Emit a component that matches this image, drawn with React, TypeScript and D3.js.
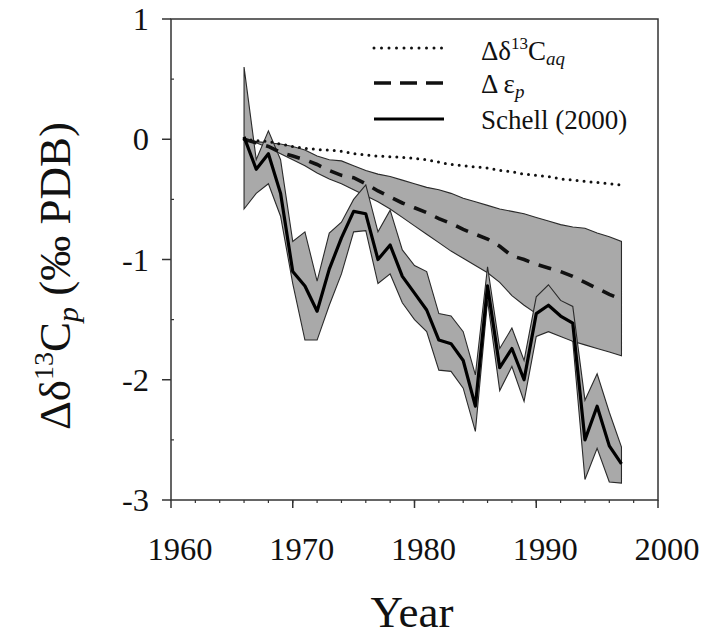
import React from 'react';
import * as d3 from 'd3';

// Sampling years shared by every series
const years = [
  1966, 1967, 1968, 1969, 1970, 1971, 1972, 1973, 1974, 1975, 1976,
  1977, 1978, 1979, 1980, 1981, 1982, 1983, 1984, 1985, 1986, 1987,
  1988, 1989, 1990, 1991, 1992, 1993, 1994, 1995, 1996, 1997,
];

// Schell (2000) record with its uncertainty envelope
const schell = [
  0.02, -0.25, -0.12, -0.45, -1.1, -1.22, -1.43, -1.08, -0.82, -0.6, -0.62,
  -1.0, -0.88, -1.14, -1.28, -1.42, -1.67, -1.7, -1.84, -2.22, -1.22, -1.9,
  -1.74, -2.0, -1.45, -1.38, -1.47, -1.53, -2.5, -2.22, -2.55, -2.7,
];
const schellUpper = [
  0.6, -0.17, 0.07, -0.17, -0.85, -0.77, -1.18, -0.78, -0.69, -0.5, -0.38,
  -0.77, -0.59, -0.92, -1.05, -1.1, -1.45, -1.47, -1.6, -1.96, -1.06, -1.74,
  -1.57, -1.84, -1.31, -1.21, -1.34, -1.39, -2.17, -1.95, -2.27, -2.56,
];
const schellLower = [
  -0.58, -0.45, -0.37, -0.64, -1.2, -1.67, -1.67, -1.38, -1.12, -0.77, -0.76,
  -1.2, -1.12, -1.36, -1.5, -1.6, -1.92, -1.93, -2.07, -2.43, -1.34, -2.09,
  -1.89, -2.18, -1.64, -1.6, -1.64, -1.68, -2.83, -2.57, -2.85, -2.86,
];

// Δε_p with its envelope
const deltaEp = [
  0.0, -0.03, -0.06, -0.11, -0.14, -0.17, -0.21, -0.26, -0.3, -0.32, -0.37,
  -0.43, -0.48, -0.53, -0.57, -0.61, -0.66, -0.7, -0.75, -0.79, -0.83, -0.89,
  -0.97, -1.0, -1.04, -1.07, -1.1, -1.14, -1.19, -1.24, -1.29, -1.33,
];
const epUpper = [
  0.0, -0.02, -0.03, -0.04, -0.06, -0.09, -0.14, -0.17, -0.18, -0.22, -0.26,
  -0.29, -0.31, -0.34, -0.37, -0.4, -0.42, -0.45, -0.49, -0.52, -0.55, -0.58,
  -0.6, -0.62, -0.65, -0.68, -0.71, -0.73, -0.74, -0.78, -0.81, -0.85,
];
const epLower = [
  0.0, -0.03, -0.07, -0.12, -0.17, -0.22, -0.28, -0.33, -0.37, -0.42, -0.47,
  -0.52, -0.58, -0.65, -0.72, -0.79, -0.86, -0.93, -0.99, -1.05, -1.11, -1.19,
  -1.3, -1.38, -1.45, -1.53, -1.62, -1.68, -1.71, -1.74, -1.77, -1.8,
];

// Δδ13C_aq
const deltaAq = [
  0.0, -0.01, -0.02, -0.04, -0.06, -0.075, -0.085, -0.09, -0.1, -0.12, -0.13,
  -0.14, -0.145, -0.15, -0.16, -0.17, -0.19, -0.21, -0.22, -0.23, -0.24, -0.26,
  -0.27, -0.29, -0.3, -0.31, -0.33, -0.34, -0.35, -0.36, -0.37, -0.38,
];

const xTicks = [1960, 1970, 1980, 1990, 2000];
const xMinorTicks = d3.range(1962, 2000, 2);
const yTicks = [1, 0, -1, -2, -3];
const yMinorTicks = [0.5, -0.5, -1.5, -2.5];

const W = 703;
const H = 636;
const SERIF = "'Liberation Serif', 'DejaVu Serif', serif";

type Pt = { year: number; v: number; lo: number; hi: number };

export default function App() {
  const x = d3.scaleLinear().domain([1960, 2000]).range([171, 658]);
  const y = d3.scaleLinear().domain([-3, 1]).range([500, 19]);

  const schellPts: Pt[] = years.map((yr, i) => ({
    year: yr, v: schell[i], lo: schellLower[i], hi: schellUpper[i],
  }));
  const epPts: Pt[] = years.map((yr, i) => ({
    year: yr, v: deltaEp[i], lo: epLower[i], hi: epUpper[i],
  }));
  const aqPts = years.map((yr, i) => ({ year: yr, v: deltaAq[i] }));

  const band = d3
    .area<Pt>()
    .x((d) => x(d.year))
    .y0((d) => y(d.lo))
    .y1((d) => y(d.hi));
  const line = d3
    .line<{ year: number; v: number }>()
    .x((d) => x(d.year))
    .y((d) => y(d.v));

  const [x0, x1] = x.range();
  const [yb, yt] = y.range();

  const legendX0 = 374;
  const legendX1 = 444;
  const legendText = 481;
  const legendRows = [48, 83, 119];

  const txt = { fontFamily: SERIF };

  return (
    <svg
      width={W}
      height={H}
      style={{ position: 'absolute', left: 0, top: 0, background: '#fff', fontFamily: SERIF }}
    >
      {/* envelopes */}
      <path d={band(epPts) + 'Z'} fill="#a9a9a9" stroke="#2a2a2a" strokeWidth={1.1} />
      <path d={band(schellPts) + 'Z'} fill="#a9a9a9" stroke="#2a2a2a" strokeWidth={1.1} />

      {/* series lines */}
      <path
        d={line(aqPts) ?? ''}
        fill="none"
        stroke="#111"
        strokeWidth={3}
        strokeLinecap="round"
        strokeDasharray="0 7"
      />
      <path
        d={line(epPts) ?? ''}
        fill="none"
        stroke="#111"
        strokeWidth={3.6}
        strokeDasharray="13 10"
      />
      <path
        d={line(schellPts) ?? ''}
        fill="none"
        stroke="#000"
        strokeWidth={3.2}
        strokeLinejoin="round"
      />

      {/* frame */}
      <rect x={x0} y={yt} width={x1 - x0} height={yb - yt} fill="none" stroke="#333" strokeWidth={1.5} />

      {/* x axis */}
      {xTicks.map((t) => (
        <g key={`xt${t}`}>
          <line x1={x(t)} x2={x(t)} y1={yb} y2={yb + 8} stroke="#333" strokeWidth={1.5} />
          <text x={x(t) + 9} y={560} fontSize={32.5} textAnchor="middle" fill="#111" style={txt}>
            {t}
          </text>
        </g>
      ))}
      {xMinorTicks.map((t) => (
        <line key={`xm${t}`} x1={x(t)} x2={x(t)} y1={yb} y2={yb + 3} stroke="#333" strokeWidth={1.2} />
      ))}

      {/* y axis */}
      {yTicks.map((t) => (
        <g key={`yt${t}`}>
          <line x1={x0 - 9} x2={x0} y1={y(t)} y2={y(t)} stroke="#333" strokeWidth={1.5} />
          <text x={149} y={y(t) + 11} fontSize={32.5} textAnchor="end" fill="#111" style={txt}>
            {t}
          </text>
        </g>
      ))}
      {yMinorTicks.map((t) => (
        <line key={`ym${t}`} x1={x0} x2={x0 + 3} y1={y(t)} y2={y(t)} stroke="#333" strokeWidth={1.2} />
      ))}

      {/* axis titles */}
      <text x={412} y={627} fontSize={45} textAnchor="middle" fill="#111" style={txt}>
        Year
      </text>
      <text
        transform="translate(70,276) rotate(-90)"
        fontSize={45}
        textAnchor="middle"
        fill="#111"
        style={txt}
      >
        Δδ
        <tspan dy={-17} fontSize={28}>13</tspan>
        <tspan dy={17}>C</tspan>
        <tspan dy={8} fontSize={30} fontStyle="italic">p</tspan>
        <tspan dy={-8}> (‰ PDB)</tspan>
      </text>

      {/* legend */}
      <line
        x1={legendX0}
        x2={legendX1}
        y1={legendRows[0]}
        y2={legendRows[0]}
        stroke="#111"
        strokeWidth={3}
        strokeLinecap="round"
        strokeDasharray="0 7.5"
      />
      <line
        x1={legendX0}
        x2={legendX1}
        y1={legendRows[1]}
        y2={legendRows[1]}
        stroke="#111"
        strokeWidth={3.6}
        strokeDasharray="17 9"
      />
      <line
        x1={legendX0}
        x2={legendX1}
        y1={legendRows[2]}
        y2={legendRows[2]}
        stroke="#000"
        strokeWidth={3.2}
      />
      <text x={legendText} y={legendRows[0] + 12} fontSize={27} fill="#111" style={txt}>
        Δδ
        <tspan dy={-11} fontSize={17}>13</tspan>
        <tspan dy={11}>C</tspan>
        <tspan dy={5} fontSize={19} fontStyle="italic">aq</tspan>
      </text>
      <text x={legendText} y={legendRows[1] + 10} fontSize={27} fill="#111" style={txt}>
        Δ ε
        <tspan dy={5} fontSize={19} fontStyle="italic">p</tspan>
      </text>
      <text x={legendText} y={legendRows[2] + 10} fontSize={27} fill="#111" style={txt}>
        Schell (2000)
      </text>
    </svg>
  );
}
